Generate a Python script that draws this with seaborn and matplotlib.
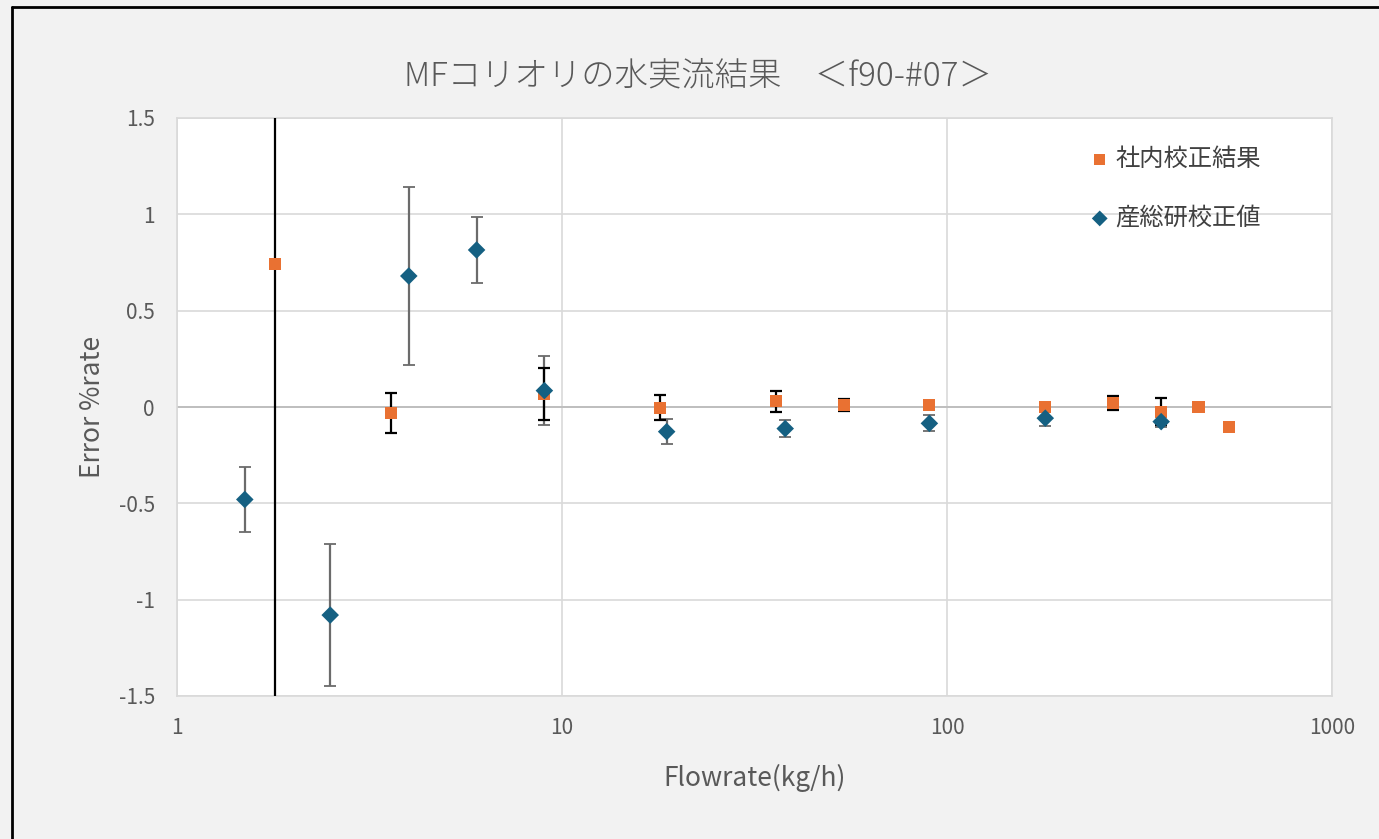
import numpy as np
import matplotlib
matplotlib.use('Agg')
import matplotlib.pyplot as plt
import matplotlib.ticker as mticker
from matplotlib.lines import Line2D
import pandas as pd
import seaborn as sns

# 社内校正結果 (in-house calibration)
inhouse_flow = [1.8, 3.6, 9, 18, 36, 54, 90, 180, 270, 360, 450, 540]
inhouse_err = [0.74, -0.03, 0.065, -0.005, 0.03, 0.01, 0.01, 0.0, 0.02, -0.025, 0.0, -0.105]
inhouse_unc = [3.0, 0.105, 0.135, 0.065, 0.055, 0.03, 0.0, 0.0, 0.035, 0.07, 0.0, 0.0]

# 産総研校正値 (AIST calibration)
aist_flow = [1.5, 2.5, 4, 6, 9, 18.7, 38, 90, 180, 360]
aist_err = [-0.48, -1.08, 0.68, 0.815, 0.085, -0.128, -0.112, -0.085, -0.058, -0.076]
aist_unc = [0.17, 0.37, 0.46, 0.17, 0.18, 0.066, 0.044, 0.041, 0.04, 0.03]

y_ticks = [-1.5, -1, -0.5, 0, 0.5, 1, 1.5]
x_ticks = [1, 10, 100, 1000]

orange = '#E97132'
blue = '#156082'
text_col = '#595959'
grid_col = '#d9d9d9'

sns.set_theme(style='white')
plt.rcParams['font.family'] = ['Noto Sans CJK JP', 'DejaVu Sans']

inhouse = pd.DataFrame({'flow': inhouse_flow, 'err': inhouse_err, 'unc': inhouse_unc})
aist = pd.DataFrame({'flow': aist_flow, 'err': aist_err, 'unc': aist_unc})

W, H = 1379, 839
fig = plt.figure(figsize=(W / 100, H / 100), dpi=100, facecolor='#f2f2f2')
ax = fig.add_axes([177 / W, 1 - 696 / H, (1332 - 177) / W, (696 - 118) / H])
ax.set_facecolor('white')

ax.set_xscale('log')
ax.set_xlim(1, 1000)
ax.set_ylim(-1.5, 1.5)

# error bars
ax.errorbar(aist.flow, aist.err, yerr=aist.unc, fmt='none', ecolor='#6b6b6b',
            elinewidth=1.6, capsize=4, capthick=1.3, zorder=3)
ax.errorbar(inhouse.flow, inhouse.err, yerr=inhouse.unc, fmt='none', ecolor='black',
            elinewidth=1.6, capsize=4, capthick=1.6, zorder=3)

sns.scatterplot(data=inhouse, x='flow', y='err', marker='s', s=75, color=orange,
                edgecolor='none', ax=ax, zorder=4, label='社内校正結果')
sns.scatterplot(data=aist, x='flow', y='err', marker='D', s=80, color=blue,
                edgecolor='none', ax=ax, zorder=5, label='産総研校正値')

ax.set_yticks(y_ticks)
ax.yaxis.set_major_formatter(mticker.FuncFormatter(lambda v, p: f'{v:g}'))
ax.set_xticks(x_ticks)
ax.xaxis.set_major_formatter(mticker.FuncFormatter(lambda v, p: f'{v:g}'))
ax.xaxis.set_minor_locator(mticker.NullLocator())
ax.tick_params(axis='both', length=0, labelsize=15, labelcolor=text_col)
ax.tick_params(axis='x', pad=15)
ax.tick_params(axis='y', pad=16)

ax.grid(True, color=grid_col, linewidth=1.2, zorder=0)
ax.axhline(0, color='#bfbfbf', linewidth=1.4, zorder=1)
for s in ax.spines.values():
    s.set_color(grid_col)
    s.set_linewidth(1.2)

ax.set_xlabel('Flowrate(kg/h)', fontsize=19, color=text_col, labelpad=18)
ax.set_ylabel('Error %rate', fontsize=19, color=text_col, labelpad=9)
fig.text(698 / W, 1 - 76 / H, 'MFコリオリの水実流結果　＜f90-#07＞',
         fontsize=24, fontweight='light', color=text_col, ha='center', va='center')

leg = ax.legend(loc='upper left', bbox_to_anchor=(1090 / W, 1 - 146 / H),
                bbox_transform=fig.transFigure, frameon=False, fontsize=17.5,
                labelspacing=1.35, handlelength=0.8, handletextpad=0.25,
                borderpad=0, borderaxespad=0, markerscale=0.9)
for t in leg.get_texts():
    t.set_color('#404040')

# chart frame (top and left edges visible)
fig.add_artist(Line2D([12 / W, 12 / W], [0, 1 - 7 / H], transform=fig.transFigure,
                      color='black', linewidth=2))
fig.add_artist(Line2D([12 / W, 1], [1 - 7 / H, 1 - 7 / H], transform=fig.transFigure,
                      color='black', linewidth=2))

fig.savefig('out.png', dpi=100, facecolor=fig.get_facecolor())
